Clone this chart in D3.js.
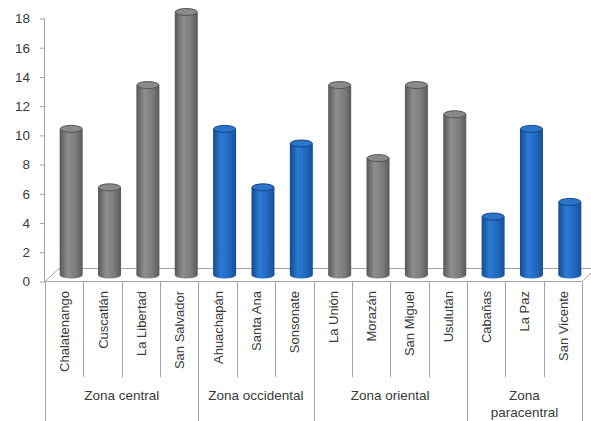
<!DOCTYPE html>
<html><head><meta charset="utf-8">
<script src="https://cdn.jsdelivr.net/npm/d3@7"></script>
<style>body{margin:0;background:#fff}svg{display:block}</style>
</head><body>
<svg id="c" width="591" height="421"></svg>
<script>
const categories = ["Chalatenango","Cuscatlán","La Libertad","San Salvador","Ahuachapán","Santa Ana","Sonsonate","La Unión","Morazán","San Miguel","Usulután","Cabañas","La Paz","San Vicente"];
const values = [10,6,13,18,10,6,9,13,8,13,11,4,10,5];
const groupNames = [["Zona central"],["Zona occidental"],["Zona oriental"],["Zona","paracentral"]];
const groupSizes = [4,3,4,3];
const groupColors = ["gray","blue","gray","blue"];
const yTicks = [0,2,4,6,8,10,12,14,16,18];

const svg = d3.select("#c");
const font = "'Liberation Sans', Arial, sans-serif";
const textColor = "#3a3a3a";
const lineColor = "#a3a3a3";
const depthX = 14, depthY = 13;

const x = d3.scaleBand().domain(categories).range([45,582]).padding(0);
const y = d3.scaleLinear().domain([0,18]).range([281.5,18.5]);

// colours per category from groups
const catColor = [];
groupSizes.forEach((n,g)=>{ for(let k=0;k<n;k++) catColor.push(groupColors[g]); });

// gradients
const defs = svg.append("defs");
const grads = {
  gray:{stops:[["0%","#575757"],["35%","#8e8e8e"],["70%","#7c7c7c"],["100%","#5a5a5a"]], top:"#8a8a8a", rim:"#555"},
  blue:{stops:[["0%","#174a8c"],["35%","#2b7bd6"],["70%","#2268bd"],["100%","#174f99"]], top:"#2a74cc", rim:"#164482"}
};
Object.entries(grads).forEach(([k,v])=>{
  const g = defs.append("linearGradient").attr("id","g-"+k).attr("x1","0").attr("x2","1").attr("y1","0").attr("y2","0");
  v.stops.forEach(s=>g.append("stop").attr("offset",s[0]).attr("stop-color",s[1]));
});

// floor
const y0 = y(0);
svg.append("polygon")
  .attr("points",[[45,y0],[582,y0],[582+depthX,y0-depthY],[45+depthX,y0-depthY]].map(p=>p.join(",")).join(" "))
  .attr("fill","#fff").attr("stroke",lineColor).attr("stroke-width",1);

// y axis
const yAxis = svg.append("g").attr("transform","translate(45,0)")
  .call(d3.axisLeft(y).tickValues(yTicks).tickSize(5).tickPadding(10).tickFormat(d3.format("d")));
yAxis.select(".domain").attr("stroke",lineColor).attr("d",`M-0.5,${y(18)}V${y0}`);
yAxis.selectAll(".tick line").attr("stroke",lineColor);
yAxis.selectAll(".tick text").attr("fill",textColor).style("font-family",font).style("font-size","13.5px");

// bars (cylinders)
const bw = 23, ry = 3.5;
const bars = svg.append("g");
categories.forEach((c,i)=>{
  const cx = x(c) + x.bandwidth()/2 + depthX/2;
  const base = y0 - depthY/2;
  const top = y(values[i]) - depthY/2;
  const col = catColor[i];
  const gg = bars.append("g");
  gg.append("ellipse").attr("cx",cx).attr("cy",base).attr("rx",bw/2).attr("ry",ry).attr("fill",`url(#g-${col})`);
  gg.append("rect").attr("x",cx-bw/2).attr("y",top).attr("width",bw).attr("height",base-top).attr("fill",`url(#g-${col})`);
  gg.append("ellipse").attr("cx",cx).attr("cy",top).attr("rx",bw/2-0.5).attr("ry",ry)
    .attr("fill",grads[col].top).attr("stroke",grads[col].rim).attr("stroke-width",1);
});

// category separators and labels
const sep = svg.append("g");
const bounds = [0];
groupSizes.reduce((a,n)=>{bounds.push(a+n);return a+n;},0);
for(let i=0;i<=categories.length;i++){
  const xx = Math.round(i<categories.length ? x(categories[i]) : x.range()[1]) + 0.5;
  const isGroup = bounds.includes(i);
  sep.append("line").attr("x1",xx).attr("x2",xx).attr("y1",y0).attr("y2",isGroup?421:377)
    .attr("stroke",lineColor).attr("stroke-width",1);
}
categories.forEach((c,i)=>{
  const cx = x(c)+x.bandwidth()/2 + 5;
  svg.append("text").attr("transform",`translate(${cx},291) rotate(-90)`)
    .attr("text-anchor","end").attr("fill",textColor)
    .style("font-family",font).style("font-size","13px").text(c);
});

// group labels
let start = 0;
groupSizes.forEach((n,g)=>{
  const x1 = x(categories[start]);
  const x2 = start+n<categories.length ? x(categories[start+n]) : x.range()[1];
  const t = svg.append("text").attr("text-anchor","middle").attr("fill",textColor)
    .style("font-family",font).style("font-size","13.5px");
  groupNames[g].forEach((line,li)=>{
    t.append("tspan").attr("x",(x1+x2)/2).attr("y",400+li*17).text(line);
  });
  start += n;
});
</script>
</body></html>
